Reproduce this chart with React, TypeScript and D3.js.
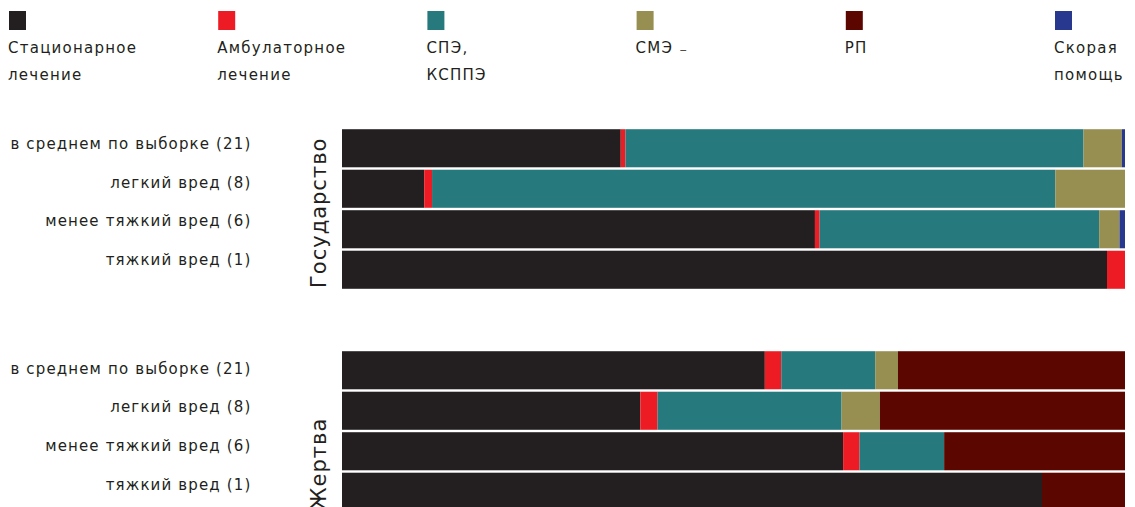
import React from "react";
import * as d3 from "d3";

const categories = [
  "в среднем по выборке (21)",
  "легкий вред (8)",
  "менее тяжкий вред (6)",
  "тяжкий вред (1)",
];
const groups = ["Государство", "Жертва"];
const seriesKeys = ["stationary", "ambulatory", "spe", "sme", "rp", "ambulance"];
const seriesLabels = [
  ["Стационарное", "лечение"],
  ["Амбулаторное", "лечение"],
  ["СПЭ,", "КСППЭ"],
  ["СМЭ ₋"],
  ["РП"],
  ["Скорая", "помощь"],
];
const seriesColors = ["#231f20", "#ed1c24", "#26797c", "#978f52", "#5c0600", "#28388f"];

// values per row: Государство x4 categories, then Жертва x4 categories (percent)
const stationary = [35.6, 10.5, 60.4, 97.7, 54.0, 38.1, 64.0, 89.4];
const ambulatory = [0.6, 1.0, 0.6, 2.3, 2.1, 2.2, 2.1, 0];
const spe = [58.5, 79.6, 35.7, 0, 12.0, 23.5, 10.8, 0];
const sme = [4.9, 8.9, 2.6, 0, 2.9, 4.9, 0, 0];
const rp = [0, 0, 0, 0, 29.0, 31.3, 23.1, 10.6];
const ambulance = [0.4, 0, 0.7, 0, 0, 0, 0, 0];

const W = 1135;
const H = 507;
const FONT = "'DejaVu Sans', sans-serif";
const TEXT = "#231f20";

export default function App() {
  const rows = categories.length * groups.length;
  const data = d3.range(rows).map((i) => ({
    group: groups[Math.floor(i / categories.length)],
    category: categories[i % categories.length],
    stationary: stationary[i],
    ambulatory: ambulatory[i],
    spe: spe[i],
    sme: sme[i],
    rp: rp[i],
    ambulance: ambulance[i],
  }));
  const stacked = d3.stack<any>().keys(seriesKeys)(data);

  const x = d3.scaleLinear().domain([0, 100]).range([342, 1125]);
  const groupTop = d3.scaleOrdinal<string, number>().domain(groups).range([128, 350]);
  const labelTop = d3.scaleOrdinal<string, number>().domain(groups).range([149, 373.5]);
  const groupH = 162;
  const yBand = d3
    .scaleBand<string>()
    .domain(categories)
    .range([0, groupH])
    .paddingInner(0.06)
    .paddingOuter(0.03);
  const yLabel = d3.scalePoint<string>().domain(categories).range([0, 116]);
  const legendX = d3.scalePoint<string>().domain(seriesKeys).range([9, 1055]);

  return (
    <svg
      width={W}
      height={H}
      style={{ position: "absolute", left: 0, top: 0, background: "#fff" }}
      fontFamily={FONT}
    >
      {/* legend */}
      {seriesKeys.map((k, i) => (
        <g key={k} transform={`translate(${legendX(k)},0)`}>
          <rect x={0} y={11} width={17} height={19} fill={seriesColors[i]} />
          {seriesLabels[i].map((t, j) => (
            <text
              key={j}
              x={-1}
              y={53 + j * 27}
              fontSize={15}
              letterSpacing={1.25}
              fill={TEXT}
            >
              {t}
            </text>
          ))}
        </g>
      ))}

      {groups.map((g) => {
        const top = groupTop(g);
        return (
          <g key={g}>
            <text
              transform={`translate(326,${top + groupH - 2}) rotate(-90)`}
              fontSize={21}
              letterSpacing={1}
              fill={TEXT}
              textAnchor="start"
            >
              {g}
            </text>
            {categories.map((c) => (
              <text
                key={c}
                x={251.5}
                y={labelTop(g) + (yLabel(c) as number)}
                fontSize={15}
                letterSpacing={1.15}
                textAnchor="end"
                fill={TEXT}
              >
                {c}
              </text>
            ))}
          </g>
        );
      })}

      {stacked.map((s, si) => (
        <g key={s.key} fill={seriesColors[si]}>
          {s.map((d, i) => {
            const w = x(d[1]) - x(d[0]);
            if (w <= 0) return null;
            const row = d.data;
            const y0 = groupTop(row.group) + (yBand(row.category) as number);
            return (
              <rect
                key={i}
                x={x(d[0])}
                y={y0}
                width={w}
                height={yBand.bandwidth()}
              />
            );
          })}
        </g>
      ))}
    </svg>
  );
}
